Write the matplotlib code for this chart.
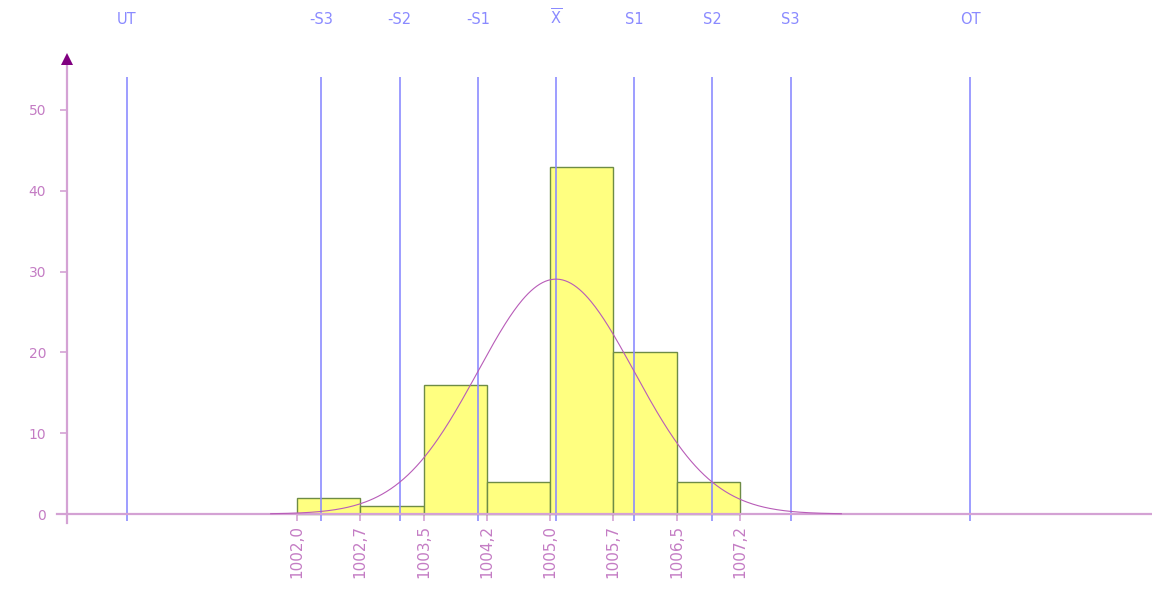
import numpy as np
import matplotlib
matplotlib.use("Agg")
import matplotlib.pyplot as plt

# ---- data ----
bin_edges = [1002.0, 1002.74, 1003.49, 1004.23, 1004.97, 1005.71, 1006.46, 1007.2]
edge_labels = ["1002,0", "1002,7", "1003,5", "1004,2", "1005,0", "1005,7", "1006,5", "1007,2"]
counts = [2, 1, 16, 4, 43, 20, 4]

mean_val = 1005.04
sigma_val = 0.9176
lower_tol = 1000.0
upper_tol = 1009.9
ref_labels = ["UT", "-S3", "-S2", "-S1", r"$\overline{\mathrm{X}}$", "S1", "S2", "S3", "OT"]
sigma_mult = [-3, -2, -1, 0, 1, 2, 3]
y_ticks = [0, 10, 20, 30, 40, 50]

# ---- styles ----
axis_col = "#d4a2d4"
label_col = "#c47cc4"
blue_col = "#8a8aff"
bar_face = "#ffff80"
bar_edge = "#6e8c46"
curve_col = "#b85cb8"
arrow_col = "#800080"
font = "DejaVu Sans"

fig = plt.figure(figsize=(11.52, 6.12), dpi=100)
ax = fig.add_axes([0.0, 82 / 612, 1.0, 490 / 612])
ax.set_xlim(998.514, 1012.035)
ax.set_ylim(-1.98, 58.66)

# bars
widths = np.diff(bin_edges)
ax.bar(bin_edges[:-1], counts, width=widths, align="edge",
       color=bar_face, edgecolor=bar_edge, linewidth=1.0, zorder=2)

# reference lines
ref_pos = [lower_tol] + [mean_val + k * sigma_val for k in sigma_mult] + [upper_tol]
ax.vlines(ref_pos, -0.87, 54.08, colors=blue_col, linewidth=1.3, alpha=0.9, zorder=3)

# fitted normal curve
n_total = sum(counts)
bw = (bin_edges[-1] - bin_edges[0]) / len(counts)
xs = np.linspace(mean_val - 3.65 * sigma_val, mean_val + 3.65 * sigma_val, 400)
ys = n_total * bw / (sigma_val * np.sqrt(2 * np.pi)) * np.exp(-0.5 * ((xs - mean_val) / sigma_val) ** 2)
ax.plot(xs, ys, color=curve_col, linewidth=0.8, zorder=5)

# axes / spines
for s in ["top", "right"]:
    ax.spines[s].set_visible(False)
ax.spines["left"].set_position(("data", 999.30))
ax.spines["bottom"].set_position(("data", 0))
ax.spines["left"].set_bounds(-1.1, 55.4)
ax.spines["bottom"].set_bounds(999.18, 1012.035)
for s in ["left", "bottom"]:
    ax.spines[s].set_color(axis_col)
    ax.spines[s].set_linewidth(1.6)
    ax.spines[s].set_zorder(4)

ax.plot([999.30], [56.3], marker="^", markersize=8, color=arrow_col,
        markeredgewidth=0, clip_on=False, zorder=6)

ax.set_yticks(y_ticks)
ax.set_yticklabels([str(v) for v in y_ticks], fontsize=10, color=label_col, family=font)
ax.tick_params(axis="y", direction="out", length=5, width=1.2, color=axis_col, pad=10)

ax.set_xticks(bin_edges)
ax.set_xticklabels(edge_labels, rotation=90, fontsize=11, color=label_col, family=font)
ax.tick_params(axis="x", direction="out", length=5, width=1.2, color=axis_col, pad=3)

sec = ax.secondary_xaxis("top")
sec.set_xticks(ref_pos)
sec.set_xticklabels(ref_labels, fontsize=10.5, color=blue_col, family=font)
sec.tick_params(axis="x", length=0, pad=9)
sec.spines["top"].set_visible(False)

ax.patch.set_alpha(0)
fig.savefig("out.png", dpi=100, facecolor="white")
